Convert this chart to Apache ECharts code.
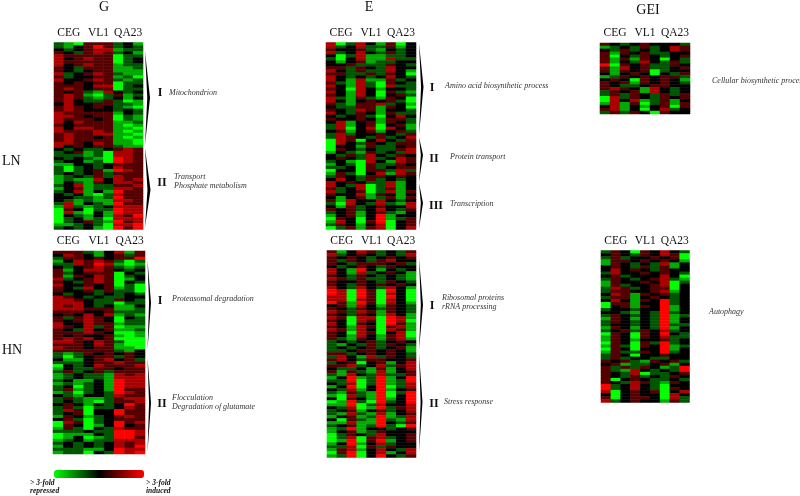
<!DOCTYPE html>
<html><head><meta charset="utf-8">
<style>html,body{margin:0;padding:0;background:#fff}#c{width:800px;height:496px}</style>
<script src="https://cdn.jsdelivr.net/npm/echarts@6/dist/echarts.min.js"></script>
</head><body><div id="c"></div>
<script>
// Levels, per row, one character per sample: A=-3 B=-2 C=-1 .=0 1 2 3
const samples = ["", "CEG", "", "", "VL1", "", "", "QA23", ""];
const G_LN = ["CBA111C.B","CB.131C.C",".C.122BCC","1.C121C.B","211111ACC","2.1211AC.","211111AC.","2.1211BCC","1.C111BBC","1.C.11BBB","2C.121CBB","1C..11BCA","2..121CBC","1.1.11ACC","111.22AC.","121.11ACC","1.1CB2.C.","121BAC1BC","121CBC.B.","12.CC1CAB",".2..11CCB","121.1.CBA","121...C.C","211111B.C","221.11ACB","2111.1ACB","2.2111BBC","1.1111BAB","2.2211BBA","211121BAB","121122BBA","1211.1BAB","121111BBA","221.21BBA","2.1.11CBB",".C.CC.121","C.1BCA221","CCCBCA221",".C.CBA321","C..BCA321","BB..C.111","CAC.C.211","CAC.1B321","C.C.1C111","BC.C1C211","BCBB2.212","B.CB1.221","C.2BCC112","B.1BCC221","C.2B.B311",".C.BAC211","..CCBC311",".CBCBB221","C2B.CB311","B2CBC.222","A1.ACC322","A2BA.B322","A.CB.B213","AC.BCA222","AC.1CB312","BBC.CA223","C.C.BA313"];
const G_HN = ["111CB.2B1",".21.B.1C1","C11.1.113","B.2121CAC","CC2132BAB",".C.121CBC","1B.221.C.","1C.111A.C","1B1.21AC.","2C.121AB.","1.C121A.C","2..1.1ACA","1.C2.1BCA","1..1C1CCA",".C..C.C.C","21.C.CC..","221.CC1.C","222.CCACC","212.C.BB.","222111BBC","111..1CCC",".1.2.2BCB","1C121.A.C","1.121.ACC","2..211BCC","21.2C1ABB","1.C2.1BBC","11121.AAB","1.1..1BAB","1212.1AAA","221.21CAA","111.21BAA","211.11BBA","111111CB.","CBC1.1.1.","CAC.11C1.",".BB.12.1C","CCC.11211","A.C.21112","B.CC11.11","C1C.1C111","BC.CCB212","BC.CCB222","C.BB.B322","BCBC.B322","C.AC.B322","C1BC.B311","BCAC.C321",".CB..C211","C1CBBC122","C.CBAC112",".1.B.C.31","C1CACC.21","C21A..311","C.1A..311","B1.BC.121",".1CAC.111","A21AC.312","A1.AB.3.1","B1CA.C211","CCC.CC332","ABBB.C332","AB.ABC331","BC.BCC222","C.C.C.212","B.C.C.213","CCCBB.322","BCCA.C323"];
const E_LN = ["2AC2.B1A.","2C.2CC1B.","1..1CB.C.","2C.2.C1C.",".AC2BBCC.","CA.2BB2CC",".B.1BCC..","..1CCC1.C","11C1.C2..","2.C1CC2.B","11CC1C1.A","2.C.C.2.C","2.B2BB1C.","1CB2CA1.C","2.B2CA2CC","1.A2.B..C","2.B2.A1CB","1.B2.A.1C","2CB1CB1.A","2.B.1.1CA","1CB112C.B",".CC11B1.A","1.C21B..C","2.C1.B1CC",".C.1CA.2.","1..1.B11C",".2B.1B1.C","C2B.1A.1B","C2A.2A2.B",".1B.1B.1C","C2C..1.C1","C21.C1C.2","A21A.2.C1","A2.C1.C11","A..B1CC.1","A1.C.CC12","B.CB1C.C2",".C1C2.C1.",".1.C2C.21","C.BA2.B21","B.CA1CC1.","CC.A1C.11","A..A11C2C","B1CA.2B21","C1.C11.1.",".2.C1C.C.","2.1.CC2B.","2.C2AC2B.","1C.2AC1B.","2C.1AC2B1","1..2B1.B.",".B.1BC1B1","1B2..2.C.","CA2.C2CB2",".B1C.1..2","1.1C.2.C1","C.1B.1CB.","B.1B.3B..","A1.A.3BC1","B2.A13A.1","C1.B.2A.1","AC1B12A.2"];
const E_HN = ["1B.21C.C1","2C.1.C.C2","1.1.C.1.1","1C1.C12..","1.C111.1C",".C.1.C1..","2.B3.B.C.","2.B2C.1.B","1.C1.C.CB","21C1CC.CB","1..1.C1.C","1.C1.1.1.","2.C2.C2.B","32A31A3.A","32A31A2.A","22A31A3.A","22A21A2.A","31B31A2.B",".1B2.B1.C","1.C1.C1.C","21C21B1.C","1.C1.B2.B","21A22A32B","1.A21A32A","2.A1.A31B","1.B21A12B","21B2.A21B","1.A21A.2A","1.B2.B12A","1CB1.B12B","C.C.1C.1.","CB.C1C1.C","C.C.1C.1B","CC.11.1.B","11C.1.1.C","C2.B2C1.C","12.C11..1","C.1A.1B.2","112C.2C12",".CC.B1B.2","1B1CB2B.1","CB2.C2CC1","B.3BC3B.3","CC3AC3BC3",".C2AC3BC2","B.3A.3AC2",".C2B.3B.1","CB1CB3AC3","BA2CB3A.3",".A1.B3B.3","AB3CA3C.3","BB3AC2..2",".C2AB3C12","C.1B.1C.2","CB2CB2B.1","B.1BC3BC2",".A1CB3CB2","BB2BB3.C1","C.1BC3CA3","BC3B..C.1","B.1BC1...","AC1.C2..1","AC2A12C.1","AB3A13B.1","B.3B.2C..","CC2A1C1..","B12B.2.C2","A13A.2B.2","BC3A.3.C1"];
const GEI_LN = ["1.C.1...C","BC.C1C.21",".C1C.C.21","1B1.1CC..","1A.C1.C.1","1B1B1.A.C","1B.C2.C1C","3A1.1CC1.","1B2.1CC.1","1B1.1AC..",".B.1.A.C1","BC1.1.11C",".1.A1.1.B","1.1B1.1.C","1.CC.11..","121.B2.C.","C1.1B2.C.","C1C1.C1C1","A2C1.C1.1","A2.2BC1B.","B2B1AC1B1",".2B.B.1A1","12B.A.2C.","C1C1.A1.."];
const GEI_HN = ["C1.A1.2.C",".1.C1.21A","C1C..1.1A","B11.1.1.B","B1.C.C2B.",".1.C1C1B.",".2.1.C1..","C2..1.1.C",".1C...2.A","C1.C.12CB","B1..1.2AC","B1C..12A.","C21C.11A.","C11..12B.",".21B1.1C.","C11B.1.C.",".2.B1.3C.","A11B..3C.","A.1B1.3B.","C..C..3B.","..CB.C3C.","C1.C.C3BC","B1.B.C3B.","C1.C.C3B.","C..C.C3CC","B1.B.C3B.","C.1C1.2C.","A1.A1.3.C","B1.A1.2CC","B1.B..1C.","A1.A1C3C.","B1CA1.3BC","A1.A..3B.","B1CC1.3C.","C1.A..1..","C1C..CC..","1.1CB1.1C",".1BCC.1B.","1C1C1.BC3","1CB2.C.C3","1.C2ACC.1","1.C1C.C1.","1A.1.CC.C","1.C21CB1.","3C.2.CA..","3C.2.CA1.","2A.1.1A.2",".A.1..A2.","1A.11.A2C","2C.1..B1C"];
const levels = {A:-3, B:-2, C:-1, ".":0, "1":1, "2":2, "3":3};
const columnTitles = ["G", "E", "GEI"];
const rowTitles = ["LN", "HN"];
const scaleLow = ["> 3-fold", "repressed"];
const scaleHigh = ["> 3-fold", "induced"];

const panels = [
  {rows:G_LN,  l:54,  t:42.5, w:89, h:187},
  {rows:G_HN,  l:53,  t:251,  w:92, h:203},
  {rows:E_LN,  l:326, t:42.5, w:90, h:187},
  {rows:E_HN,  l:327, t:250.5,w:89, h:207},
  {rows:GEI_LN,l:600, t:43,   w:90, h:71},
  {rows:GEI_HN,l:601, t:250.5,w:88.5,h:152}
];
const brackets = [
  [145,51,145,98,5],[145,148,227,190,5.5],
  [147.5,260,350,303,3.5],[147.5,358,452,403,3.5],
  [419,43,135,87,4.5],[419,137,182,155,4],[419,183,229,203,4],
  [419,258,350,305,4],[419,353,452,402,3.5]
];
const romans = [["I",160,93],["II",162,183],["I",160,301],["II",162,404],["I",432,88],["II",434,159],["III",436,206],["I",432,306],["II",434,404]];
const notes = [["Mitochondrion",169,93],["Transport",174,177],["Phosphate metabolism",174,186],
  ["Proteasomal degradation",172,299],["Flocculation",172,398],["Degradation of glutamate",172,407],
  ["Amino acid biosynthetic process",445,86],["Protein transport",450,157],["Transcription",450,204],
  ["Ribosomal proteins",442,298],["rRNA processing",442,307],["Stress response",444,402],
  ["Cellular biosynthetic process",712,81],["Autophagy",709,312]];
const serif = '"Liberation Serif", serif';

const grid=[], xAxis=[], yAxis=[], series=[];
panels.forEach((p,i)=>{
  grid.push({left:p.l, top:p.t, width:p.w, height:p.h});
  xAxis.push({type:'category', gridIndex:i, position:'top', data:samples,
    axisLine:{show:false}, axisTick:{show:false}, splitLine:{show:false},
    axisLabel:{interval:0, margin:4, fontFamily:serif, fontSize:11.5, color:'#111', hideOverlap:false}});
  yAxis.push({type:'category', gridIndex:i, inverse:true, data:p.rows.map((_,r)=>r), show:false});
  const d=[];
  p.rows.forEach((row,r)=>[...row].forEach((ch,c)=>d.push([c,r,levels[ch]])));
  series.push({type:'heatmap', xAxisIndex:i, yAxisIndex:i, data:d, progressive:0, animation:false, emphasis:{disabled:true}});
});
const graphic=[];
const txt=(s,x,y,font,fill,align)=>graphic.push({type:'text',left:undefined,x,y,silent:true,
  style:{text:s,font,fill:fill||'#111',textAlign:align||'left',textVerticalAlign:'middle'}});
brackets.forEach(([x,y0,y1,m,w])=>graphic.push({type:'polygon',silent:true,
  shape:{points:[[x,y0],[x+w,m],[x,y1],[x+w*0.45,m]]},style:{fill:'#000'}}));
romans.forEach(([s,x,y])=>txt(s,x,y,'bold 12px '+serif,'#111','center'));
notes.forEach(([s,x,y])=>txt(s,x,y,'italic 8px '+serif,'#333'));
[[columnTitles[0],104,7],[columnTitles[1],369,7],[columnTitles[2],648,10]].forEach(([s,x,y])=>txt(s,x,y,'14px '+serif,'#111','center'));
[[rowTitles[0],2,161],[rowTitles[1],2,350]].forEach(([s,x,y])=>txt(s,x,y,'14px '+serif,'#111'));
scaleLow.forEach((s,i)=>txt(s,30,483+i*8,'italic bold 7.5px '+serif,'#111'));
scaleHigh.forEach((s,i)=>txt(s,146,483+i*8,'italic bold 7.5px '+serif,'#111'));

const chart=echarts.init(document.getElementById('c'),null,{renderer:'canvas'});
chart.setOption({
  backgroundColor:'#fff', animation:false, grid, xAxis, yAxis, series, graphic,
  visualMap:{type:'continuous', min:-3, max:3, orient:'horizontal', left:54, top:470, itemWidth:8, itemHeight:90,
    calculable:false, text:['',''], showLabel:false, padding:0, hoverLink:false,
    inRange:{color:['#00ff00','#000000','#ff0000']}, seriesIndex:panels.map((_,i)=>i)}
});
</script></body></html>
